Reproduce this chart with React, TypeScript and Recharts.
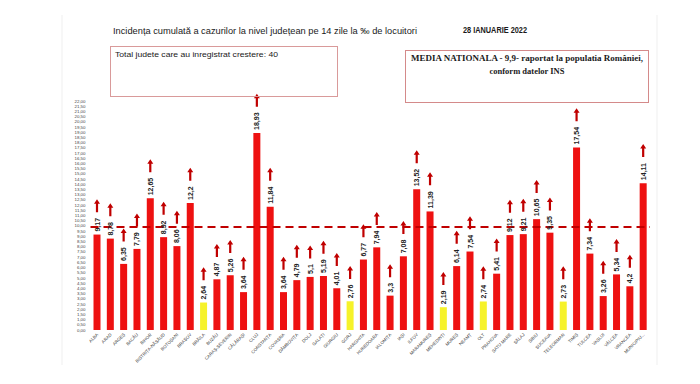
import { BarChart, Bar, XAxis, YAxis, ReferenceLine, LabelList, Cell } from 'recharts';

const counties = [
  'ALBA', 'ARAD', 'ARGEȘ', 'BACĂU', 'BIHOR', 'BISTRIȚA-NĂSĂUD', 'BOTOȘANI', 'BRAȘOV', 'BRĂILA', 'BUZĂU',
  'CARAȘ-SEVERIN', 'CĂLĂRAȘI', 'CLUJ', 'CONSTANȚA', 'COVASNA', 'DÂMBOVIȚA', 'DOLJ', 'GALAȚI', 'GIURGIU', 'GORJ',
  'HARGHITA', 'HUNEDOARA', 'IALOMIȚA', 'IAȘI', 'ILFOV', 'MARAMUREȘ', 'MEHEDINȚI', 'MUREȘ', 'NEAMȚ', 'OLT',
  'PRAHOVA', 'SATU MARE', 'SĂLAJ', 'SIBIU', 'SUCEAVA', 'TELEORMAN', 'TIMIȘ', 'TULCEA', 'VASLUI', 'VÂLCEA',
  'VRANCEA', 'MUNICIPIUL BUCUREȘTI',
];

// incidenta la 14 zile, la mia de locuitori
const incidence = [
  9.17, 8.78, 6.35, 7.79, 12.65, 8.92, 8.06, 12.2, 2.64, 4.87,
  5.26, 3.64, 18.93, 11.84, 3.64, 4.79, 5.1, 5.19, 4.01, 2.76,
  6.77, 7.94, 3.3, 7.08, 13.52, 11.39, 2.19, 6.14, 7.54, 2.74,
  5.41, 9.12, 9.21, 10.65, 9.35, 2.73, 17.54, 7.34, 3.26, 5.34,
  4.2, 14.11,
];

// judete sub pragul de 3 la mie (bare galbene)
const lowCounties = ['BRĂILA', 'GORJ', 'MEHEDINȚI', 'OLT', 'TELEORMAN'];

const nationalAverage = 9.9;

const yTicks = [
  0, 0.5, 1, 1.5, 2, 2.5, 3, 3.5, 4, 4.5, 5, 5.5, 6, 6.5, 7, 7.5, 8, 8.5, 9, 9.5, 10, 10.5,
  11, 11.5, 12, 12.5, 13, 13.5, 14, 14.5, 15, 15.5, 16, 16.5, 17, 17.5, 18, 18.5, 19, 19.5,
  20, 20.5, 21, 21.5, 22,
];

const data = counties.map((name, i) => ({ name, value: incidence[i] }));

const RED = '#ee1111';
const YELLOW = '#f6f22a';
const DARK_RED = '#c00000';

const fmtValue = (v: number) => String(v).replace('.', ',');

function ValueLabel(props: any) {
  const { x, y, width, value } = props;
  const cx = Number(x) + Number(width) / 2;
  const top = Number(y);
  const text = fmtValue(value);
  const digits = text.replace(',', '').length;
  const len = digits * 3.8 + (text.includes(',') ? 1.9 : 0);
  const start = top - 3;
  const arrowBottom = start - len - 6;
  const arrowTop = arrowBottom - 13;
  const hb = arrowTop + 4.5;
  return (
    <g>
      <text
        transform={`translate(${cx + 2.5},${start}) rotate(-90)`}
        fontSize={7}
        fontWeight="bold"
        fill="#222"
        fontFamily="'Liberation Sans', Arial, sans-serif"
      >
        {text}
      </text>
      <path
        d={`M${cx - 1.1},${arrowBottom} L${cx - 1.1},${hb} L${cx - 3},${hb} L${cx},${arrowTop} L${cx + 3},${hb} L${cx + 1.1},${hb} L${cx + 1.1},${arrowBottom} Z`}
        fill={DARK_RED}
      />
    </g>
  );
}

function CountyTick(props: any) {
  const { x, y, payload } = props;
  const raw = String(payload.value);
  const name = raw.length > 16 ? raw.slice(0, 9) + '...' : raw;
  return (
    <text
      transform={`translate(${x + 1.5},${y + 3}) rotate(-45)`}
      textAnchor="end"
      fontSize={4.4}
      fill="#333"
      fontFamily="'Liberation Sans', Arial, sans-serif"
    >
      {name}
    </text>
  );
}

function Header() {
  return (
    <svg width={700} height={384} style={{ position: 'absolute', left: 0, top: 0, pointerEvents: 'none' }}>
      <line x1={62} y1={15} x2={62} y2={365} stroke="#efefef" />
      <line x1={657} y1={15} x2={657} y2={365} stroke="#efefef" />
      <text x={113} y={34} fontSize={8.5} fill="#1a1a1a" fontFamily="'Liberation Sans', Arial, sans-serif"
        textLength={304} lengthAdjust="spacingAndGlyphs">
        Incidența cumulată a cazurilor la nivel județean pe 14 zile la ‰ de locuitori
      </text>
      <text x={463} y={33} fontSize={8.5} fontWeight="bold" fill="#1a1a1a" fontFamily="'Liberation Sans', Arial, sans-serif"
        textLength={64} lengthAdjust="spacingAndGlyphs">
        28 IANUARIE 2022
      </text>
      <rect x={110.5} y={46.5} width={227} height={50} fill="none" stroke="#d99a9a" />
      <text x={115} y={57} fontSize={7.5} fill="#1a1a1a" fontFamily="'Liberation Sans', Arial, sans-serif"
        textLength={163} lengthAdjust="spacingAndGlyphs">
        Total judete care au inregistrat crestere: 40
      </text>
      <rect x={405.5} y={50.5} width={243} height={52} fill="none" stroke="#d48a8a" />
      <text x={411} y={61} fontSize={8.5} fontWeight="bold" fill="#1a1a1a" fontFamily="'Liberation Serif', 'Times New Roman', serif"
        textLength={232} lengthAdjust="spacingAndGlyphs">
        MEDIA NATIONALA - 9,9-  raportat la populatia României,
      </text>
      <text x={527} y={74} fontSize={8.5} fontWeight="bold" fill="#1a1a1a" textAnchor="middle"
        fontFamily="'Liberation Serif', 'Times New Roman', serif">
        conform datelor INS
      </text>
    </svg>
  );
}

export default function App() {
  return (
    <div style={{ position: 'absolute', left: 0, top: 0, width: 700, height: 384, background: '#fff' }}>
      <BarChart width={700} height={384} data={data} margin={{ top: 101, right: 50, bottom: 14, left: 0 }}>
        <XAxis
          dataKey="name"
          interval={0}
          height={40}
          axisLine={false}
          tickLine={false}
          tickSize={0}
          tick={<CountyTick />}
        />
        <YAxis
          width={90.5}
          domain={[0, 22]}
          ticks={yTicks}
          interval={0}
          axisLine={false}
          tickLine={false}
          tickSize={0}
          tickMargin={5}
          tickFormatter={(v: number) => v.toFixed(2).replace('.', ',')}
          tick={{ fontSize: 4.4, fill: '#444', fontFamily: "'Liberation Sans', Arial, sans-serif" }}
        />
        <Bar dataKey="value" barSize={7} isAnimationActive={false}>
          {data.map((d) => (
            <Cell key={d.name} fill={lowCounties.includes(d.name) ? YELLOW : RED} />
          ))}
          <LabelList dataKey="value" content={<ValueLabel />} />
        </Bar>
        <ReferenceLine y={nationalAverage} stroke={DARK_RED} strokeWidth={2} strokeDasharray="8 5" />
      </BarChart>
      <Header />
    </div>
  );
}
